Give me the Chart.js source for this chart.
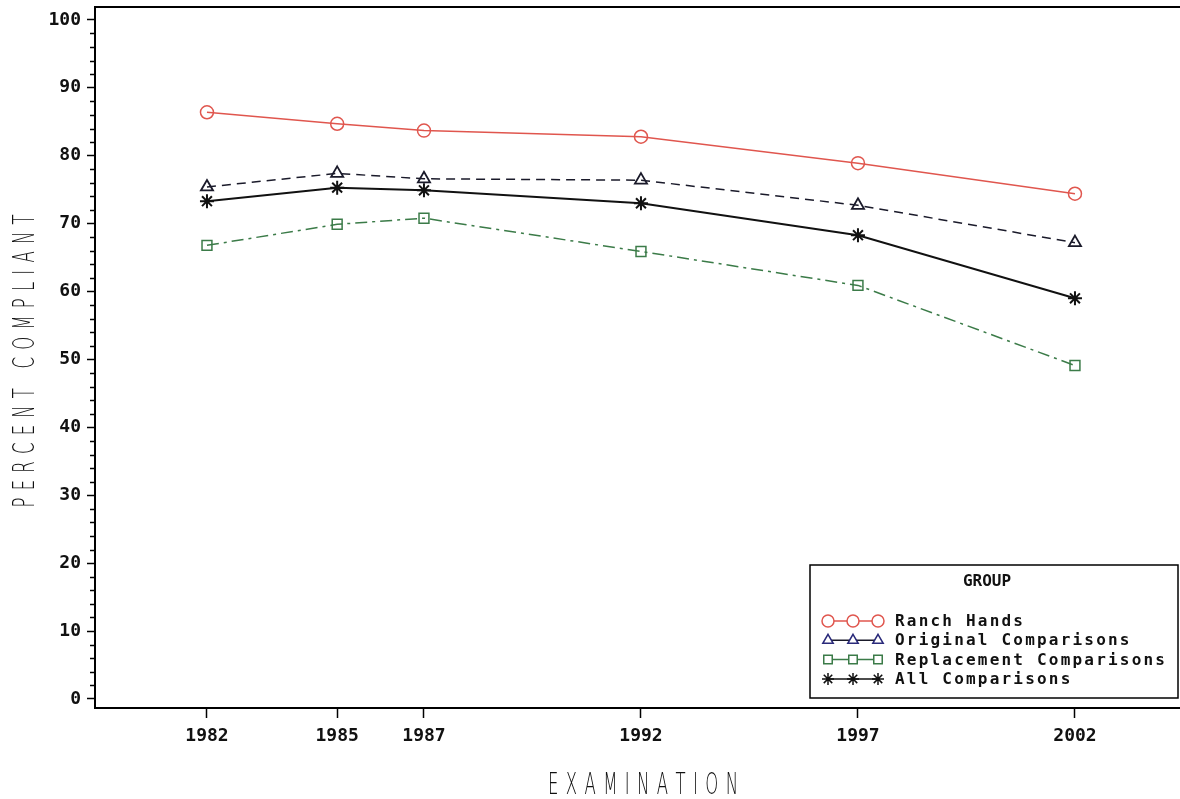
<!DOCTYPE html>
<html>
<head>
<meta charset="utf-8">
<script src="https://cdn.jsdelivr.net/npm/chart.js@4/dist/chart.umd.min.js"></script>
<style>
  html, body { margin: 0; padding: 0; background: #fff; overflow: hidden; }
  #wrap { width: 1180px; height: 799px; position: relative; }
</style>
</head>
<body>
<div id="wrap"><canvas id="complianceChart"></canvas></div>
<script>
// -------------------------------
// DATA
// -------------------------------
const years = [1982, 1985, 1987, 1992, 1997, 2002];
const ranchHands = [86.4, 84.7, 83.7, 82.8, 78.9, 74.4];
const originalComparisons = [75.4, 77.4, 76.6, 76.4, 72.7, 67.2];
const replacementComparisons = [66.8, 69.9, 70.8, 65.9, 60.9, 49.1];
const allComparisons = [73.3, 75.3, 74.9, 73.0, 68.3, 59.0];
const yTicks = [0, 10, 20, 30, 40, 50, 60, 70, 80, 90, 100];
const yMinorTicks = [2, 4, 6, 8, 12, 14, 16, 18, 22, 24, 26, 28, 32, 34, 36, 38, 42, 44, 46, 48,
    52, 54, 56, 58, 62, 64, 66, 68, 72, 74, 76, 78, 82, 84, 86, 88, 92, 94, 96, 98];
const xTitle = "EXAMINATION";
const yTitle = "PERCENT COMPLIANT";
const legendTitle = "GROUP";

const toPoints = vals => years.map((yr, i) => ({ x: yr, y: vals[i] }));

const tickFont = { family: "DejaVu Sans Mono", size: 18, weight: "bold" };

// draws narrow, widely spaced text (the plotter-style axis titles)
function drawSpaced(ctx, text, cx, cy, totalWidth, sx) {
    const chars = text.split("");
    const widths = chars.map(c => ctx.measureText(c).width * sx);
    const sum = widths.reduce((a, b) => a + b, 0);
    const gap = (totalWidth - sum) / (chars.length - 1);
    let x = cx - totalWidth / 2;
    chars.forEach((c, i) => {
        ctx.save();
        ctx.translate(x, cy);
        ctx.scale(sx, 1);
        ctx.fillText(c, 0, 0);
        ctx.restore();
        x += widths[i] + gap;
    });
}

// -------------------------------
// EXTRA DRAWING: frame, minor ticks, titles, legend box
// -------------------------------
const extras = {
    id: "extras",
    afterDraw(chart) {
        const ctx = chart.ctx;
        const area = chart.chartArea;
        const yScale = chart.scales.y;

        ctx.save();
        // top frame line
        ctx.strokeStyle = "#000";
        ctx.lineWidth = 2;
        ctx.beginPath();
        ctx.moveTo(area.left, area.top);
        ctx.lineTo(area.right, area.top);
        ctx.stroke();

        // minor ticks on y
        ctx.lineWidth = 1.5;
        yMinorTicks.forEach(v => {
            const py = Math.round(yScale.getPixelForValue(v)) + 0.5;
            ctx.beginPath();
            ctx.moveTo(area.left - 5, py);
            ctx.lineTo(area.left, py);
            ctx.stroke();
        });

        // axis titles
        ctx.fillStyle = "#111";
        ctx.font = "200 30px 'DejaVu Sans'";
        ctx.textAlign = "left";
        ctx.textBaseline = "alphabetic";
        drawSpaced(ctx, xTitle, 643, 794, 190, 0.55);
        ctx.save();
        ctx.translate(34, 361);
        ctx.rotate(-Math.PI / 2);
        drawSpaced(ctx, yTitle, 0, 0, 293, 0.55);
        ctx.restore();

        // legend box
        const bx = 810, by = 565, bw = 368, bh = 133;
        ctx.fillStyle = "#fff";
        ctx.fillRect(bx, by, bw, bh);
        ctx.strokeStyle = "#000";
        ctx.lineWidth = 1.5;
        ctx.strokeRect(bx, by, bw, bh);

        ctx.fillStyle = "#111";
        ctx.font = "bold 16px 'DejaVu Sans Mono'";
        ctx.textAlign = "center";
        ctx.textBaseline = "middle";
        ctx.fillText(legendTitle, 987, 582);

        ctx.font = "bold 16px 'DejaVu Sans Mono'";
        ctx.letterSpacing = "2.2px";
        ctx.textAlign = "left";
        chart.data.datasets.forEach((ds, i) => {
            const ly = 621 + i * 19.3;
            ctx.strokeStyle = ds.borderColor;
            ctx.lineWidth = 1.5;
            ctx.setLineDash([]);
            ctx.beginPath();
            ctx.moveTo(828, ly);
            ctx.lineTo(878, ly);
            ctx.stroke();
            [828, 853, 878].forEach(mx => {
                ctx.strokeStyle = ds.legendMarkerColor || ds.borderColor;
                ctx.fillStyle = "#fff";
                Chart.helpers.drawPoint(ctx, {
                    pointStyle: ds.pointStyle,
                    radius: 6,
                    rotation: 0,
                    borderWidth: 1.5
                }, mx, ly);
            });
            ctx.fillStyle = "#111";
            ctx.fillText(ds.label, 895, ly + 1);
        });
        ctx.restore();
    }
};

const ctx = document.getElementById("complianceChart").getContext("2d");
const chart = new Chart(ctx, {
    type: "line",
    data: {
        datasets: [{
            label: "Ranch Hands",
            data: toPoints(ranchHands),
            borderColor: "#e0564e",
            borderWidth: 1.5,
            pointStyle: "circle",
            pointRadius: 6.5,
            pointBorderWidth: 1.5,
            pointBackgroundColor: "rgba(0,0,0,0)"
        }, {
            label: "Original Comparisons",
            data: toPoints(originalComparisons),
            borderColor: "#1a1a2a",
            legendMarkerColor: "#2a2a7a",
            borderWidth: 1.5,
            borderDash: [9, 6],
            pointStyle: "triangle",
            pointRadius: 7,
            pointBorderWidth: 1.8,
            pointBackgroundColor: "rgba(0,0,0,0)"
        }, {
            label: "Replacement Comparisons",
            data: toPoints(replacementComparisons),
            borderColor: "#3b7b48",
            borderWidth: 1.5,
            borderDash: [12, 5, 3, 5],
            pointStyle: "rect",
            pointRadius: 7,
            pointBorderWidth: 1.5,
            pointBackgroundColor: "rgba(0,0,0,0)"
        }, {
            label: "All Comparisons",
            data: toPoints(allComparisons),
            borderColor: "#111",
            borderWidth: 2,
            pointStyle: "star",
            pointRadius: 7,
            pointBorderWidth: 2,
            pointBackgroundColor: "rgba(0,0,0,0)"
        }]
    },
    options: {
        responsive: true,
        maintainAspectRatio: false,
        animation: false,
        layout: { autoPadding: false, padding: { top: 7, right: 0, left: 0, bottom: 0 } },
        plugins: {
            legend: { display: false },
            tooltip: { enabled: false }
        },
        elements: { line: { tension: 0 } },
        scales: {
            x: {
                type: "linear",
                min: 1979.42,
                max: 2004.42,
                afterBuildTicks: scale => { scale.ticks = years.map(v => ({ value: v })); },
                afterFit: scale => {
                    scale.height = 91;
                    scale.paddingLeft = 0;
                    scale.paddingRight = 0;
                },
                grid: { drawOnChartArea: false, drawTicks: true, tickLength: 10, tickColor: "#000", tickWidth: 1.5 },
                border: { display: true, color: "#000", width: 2 },
                ticks: {
                    color: "#111",
                    font: tickFont,
                    padding: 8,
                    maxRotation: 0,
                    autoSkip: false,
                    callback: v => String(v)
                }
            },
            y: {
                min: -1.33,
                max: 101.9,
                afterBuildTicks: scale => { scale.ticks = yTicks.map(v => ({ value: v })); },
                afterFit: scale => {
                    scale.width = 95;
                    scale.paddingTop = 0;
                    scale.paddingBottom = 0;
                },
                grid: { drawOnChartArea: false, drawTicks: true, tickLength: 8, tickColor: "#000", tickWidth: 1.5 },
                border: { display: true, color: "#000", width: 2 },
                ticks: {
                    color: "#111",
                    font: tickFont,
                    padding: 6,
                    autoSkip: false,
                    callback: v => String(v)
                }
            }
        }
    },
    plugins: [extras]
});
</script>
</body>
</html>
